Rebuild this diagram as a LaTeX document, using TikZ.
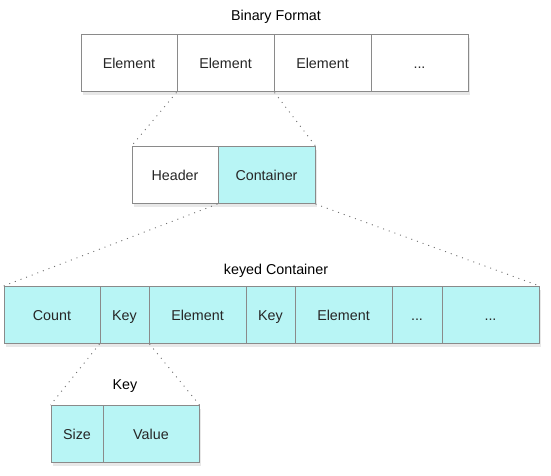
\documentclass[tikz,border=0pt]{standalone}
\usepackage{fontspec}
\setmainfont{Liberation Sans}
\usepackage{tikz}
\usetikzlibrary{shadows}
\definecolor{cellcyan}{HTML}{B8F5F5}
\definecolor{cellline}{HTML}{8A8A8A}
\definecolor{dotline}{HTML}{707070}

\begin{document}
\begin{tikzpicture}
			[x=1pt,y=-1pt,font=\fontsize{14.3}{16}\selectfont,
			cell/.style={shape=rectangle,draw=cellline,fill=white,line width=1pt,
				minimum height=57pt,inner sep=0pt,text=black!85,
				text height=10pt,text depth=0pt,
				drop shadow={opacity=.18,shadow xshift=1.5pt,shadow yshift=-3pt}},
			cyancell/.style={cell,fill=cellcyan},
			link/.style={dotline,line width=.9pt,dash pattern=on 1pt off 5pt}]
			\useasboundingbox (0,0) rectangle (551,476);
			
			\node at (276,17) {Binary Format};
			\node (e1) [cell,minimum width=96pt] at (129,63.5) {Element};
			\node (e2) [cell,minimum width=97pt] at (225.5,63.5) {Element};
			\node (e3) [cell,minimum width=97pt] at (322.5,63.5) {Element};
			\node (e4) [cell,minimum width=97pt] at (419.5,63.5) {...};
			
			\node (h) [cell,minimum width=86pt] at (175,175) {Header};
			\node (c) [cyancell,minimum width=97pt] at (266.5,175) {Container};
			
			\node at (276,271) {keyed Container};
			\node (k1) [cyancell,minimum width=96pt] at (52,315) {Count};
			\node (k2) [cyancell,minimum width=49pt] at (124.5,315) {Key};
			\node (k3) [cyancell,minimum width=97pt] at (197.5,315) {Element};
			\node (k4) [cyancell,minimum width=49pt] at (270.5,315) {Key};
			\node (k5) [cyancell,minimum width=97pt] at (343.5,315) {Element};
			\node (k6) [cyancell,minimum width=50pt] at (417,315) {...};
			\node (k7) [cyancell,minimum width=97pt] at (490.5,315) {...};
			
			\node at (125,386) {Key};
			\node (s) [cyancell,minimum width=52pt] at (77,434) {Size};
			\node (v) [cyancell,minimum width=96pt] at (151,434) {Value};
			
			\draw [link] (e2.south west) to (h.north west);
			\draw [link] (e2.south east) to (c.north east);
			\draw [link] (c.south west) to (k1.north west);
			\draw [link] (c.south east) to (k7.north east);
			\draw [link] (k2.south west) to (s.north west);
			\draw [link] (k2.south east) to (v.north east);
			\end{tikzpicture}
\end{document}
